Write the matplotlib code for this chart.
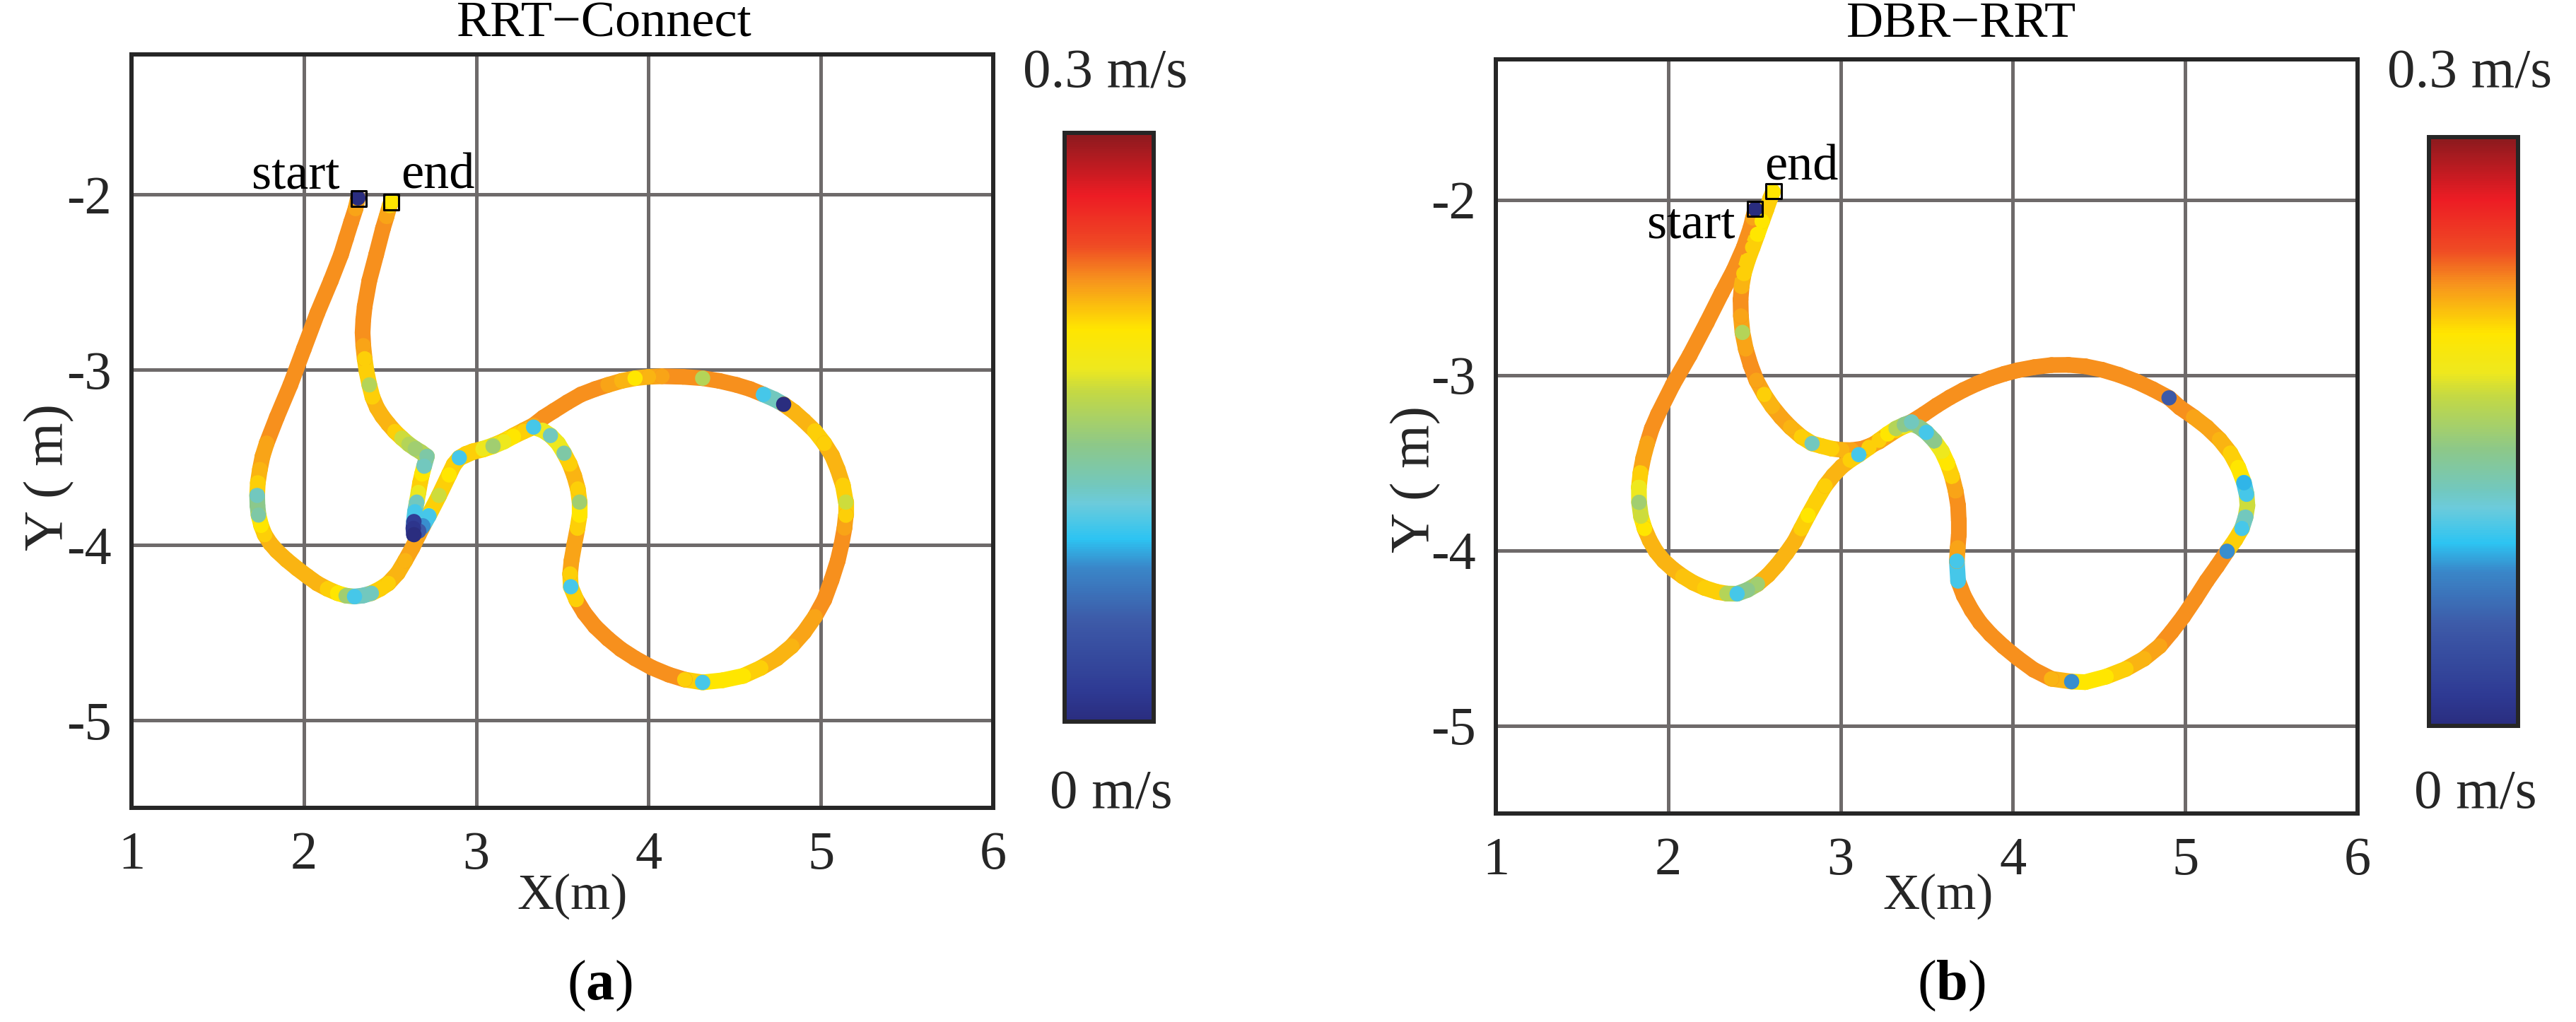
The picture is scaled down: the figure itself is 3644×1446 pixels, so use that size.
import matplotlib
matplotlib.use('Agg')
import matplotlib.pyplot as plt
from matplotlib.colors import LinearSegmentedColormap, Normalize
from matplotlib.collections import LineCollection
from matplotlib.cm import ScalarMappable
import numpy as np

plt.rcParams['font.family'] = ['Liberation Serif', 'DejaVu Serif']
plt.rcParams['mathtext.fontset'] = 'custom'
plt.rcParams['mathtext.rm'] = 'Liberation Serif'
plt.rcParams['mathtext.bf'] = 'Liberation Serif:bold'
plt.rcParams['axes.unicode_minus'] = False

# ---------------- data ----------------
x_ticks = [1, 2, 3, 4, 5, 6]
x_ticklabels = ['1', '2', '3', '4', '5', '6']
y_ticks = [-2, -3, -4, -5]
y_ticklabels = ['-2', '-3', '-4', '-5']
xlim = (1, 6)
ylim = (-5.5, -1.2)
speed_min, speed_max = 0.0, 0.3
titles = ['RRT\u2212Connect', 'DBR\u2212RRT']
panel_labels = ['a', 'b']
cbar_top_label = '0.3 m/s'
cbar_bottom_label = '0 m/s'

# RRT-Connect trajectory (x, y in m, speed in m/s)
rrt_x = [2.314, 2.300, 2.275, 2.245, 2.216, 2.157, 2.078, 2.000, 1.922, 1.843,
         1.784, 1.760, 1.745, 1.733, 1.729, 1.731, 1.737, 1.752, 1.773, 1.805,
         1.843, 1.900, 1.961, 2.020, 2.078, 2.137, 2.196, 2.245, 2.294, 2.345,
         2.392, 2.443, 2.490, 2.545, 2.588, 2.630, 2.667, 2.725, 2.784, 2.843,
         2.870, 2.902, 2.940, 2.980, 3.040, 3.098, 3.160, 3.216, 3.275, 3.333,
         3.390, 3.451, 3.530, 3.608, 3.690, 3.765, 3.845, 3.922, 4.000, 4.078,
         4.200, 4.314, 4.410, 4.510, 4.590, 4.667, 4.730, 4.784, 4.845, 4.902,
         4.965, 5.020, 5.065, 5.098, 5.128, 5.145, 5.145, 5.137, 5.120, 5.098,
         5.062, 5.020, 4.965, 4.902, 4.830, 4.745, 4.650, 4.549, 4.430, 4.314,
         4.210, 4.118, 4.020, 3.922, 3.840, 3.765, 3.690, 3.627, 3.580, 3.549,
         3.545, 3.553, 3.570, 3.588, 3.600, 3.600, 3.590, 3.569, 3.543, 3.510,
         3.475, 3.431, 3.385, 3.333, 3.275, 3.216, 3.160, 3.098, 3.040, 2.980,
         2.902, 2.870, 2.843, 2.784, 2.725, 2.690, 2.667, 2.639, 2.636, 2.639,
         2.645, 2.655, 2.665, 2.675, 2.686, 2.698, 2.714, 2.680, 2.647, 2.610,
         2.569, 2.528, 2.490, 2.455, 2.424, 2.398, 2.380, 2.364, 2.353, 2.345,
         2.341, 2.345, 2.353, 2.380, 2.420, 2.459, 2.480, 2.498, 2.509]
rrt_y = [-2.019, -2.080, -2.156, -2.250, -2.342, -2.491, -2.677, -2.881, -3.086, -3.271,
         -3.420, -3.495, -3.569, -3.645, -3.717, -3.775, -3.829, -3.888, -3.941, -3.990,
         -4.033, -4.085, -4.134, -4.178, -4.219, -4.250, -4.275, -4.289, -4.294, -4.288,
         -4.275, -4.250, -4.219, -4.160, -4.089, -4.015, -3.941, -3.829, -3.717, -3.595,
         -3.540, -3.502, -3.480, -3.465, -3.450, -3.431, -3.405, -3.375, -3.345, -3.316,
         -3.272, -3.234, -3.185, -3.141, -3.110, -3.086, -3.063, -3.048, -3.040, -3.037,
         -3.040, -3.048, -3.063, -3.086, -3.110, -3.141, -3.168, -3.197, -3.240, -3.290,
         -3.350, -3.420, -3.490, -3.569, -3.660, -3.755, -3.830, -3.903, -3.995, -4.089,
         -4.200, -4.312, -4.410, -4.498, -4.578, -4.647, -4.702, -4.747, -4.772, -4.784,
         -4.768, -4.740, -4.700, -4.647, -4.595, -4.535, -4.465, -4.387, -4.310, -4.238,
         -4.165, -4.089, -3.995, -3.903, -3.830, -3.755, -3.680, -3.606, -3.538, -3.476,
         -3.420, -3.375, -3.345, -3.327, -3.352, -3.380, -3.410, -3.436, -3.455, -3.470,
         -3.505, -3.545, -3.600, -3.720, -3.833, -3.890, -3.920, -3.941, -3.905, -3.866,
         -3.810, -3.755, -3.700, -3.643, -3.595, -3.550, -3.494, -3.470, -3.450, -3.425,
         -3.390, -3.352, -3.309, -3.265, -3.216, -3.155, -3.086, -3.010, -2.937, -2.862,
         -2.788, -2.712, -2.639, -2.491, -2.342, -2.193, -2.125, -2.063, -2.040]
rrt_v = [0.00, 0.22, 0.225, 0.225, 0.225, 0.225, 0.225, 0.225, 0.225, 0.225,
         0.22, 0.22, 0.215, 0.207, 0.12, 0.14, 0.13, 0.20, 0.207, 0.215,
         0.215, 0.215, 0.215, 0.215, 0.215, 0.207, 0.20, 0.15, 0.10, 0.12,
         0.12, 0.207, 0.207, 0.215, 0.215, 0.22, 0.22, 0.20, 0.17, 0.207,
         0.207, 0.10, 0.207, 0.207, 0.18, 0.17, 0.207, 0.207, 0.215, 0.22,
         0.225, 0.225, 0.225, 0.225, 0.225, 0.22, 0.215, 0.20, 0.215, 0.22,
         0.225, 0.16, 0.225, 0.225, 0.225, 0.10, 0.12, 0.00, 0.215, 0.215,
         0.207, 0.207, 0.215, 0.215, 0.207, 0.17, 0.207, 0.22, 0.225, 0.225,
         0.225, 0.225, 0.22, 0.22, 0.215, 0.215, 0.207, 0.20, 0.20, 0.10,
         0.207, 0.225, 0.225, 0.225, 0.225, 0.225, 0.225, 0.225, 0.207, 0.10,
         0.207, 0.22, 0.22, 0.207, 0.20, 0.15, 0.207, 0.215, 0.207, 0.13,
         0.18, 0.12, 0.18, 0.10, 0.207, 0.20, 0.18, 0.15, 0.20, 0.207,
         0.207, 0.207, 0.20, 0.207, 0.10, 0.08, 0.05, 0.00, 0.01, 0.02,
         0.10, 0.12, 0.18, 0.207, 0.20, 0.12, 0.13, 0.16, 0.15, 0.16,
         0.17, 0.207, 0.215, 0.215, 0.215, 0.207, 0.16, 0.207, 0.207, 0.22,
         0.225, 0.225, 0.225, 0.225, 0.225, 0.225, 0.22, 0.207, 0.20]

# DBR-RRT trajectory
dbr_x = [2.505, 2.492, 2.478, 2.439, 2.380, 2.310, 2.224, 2.125, 2.027, 1.941,
         1.905, 1.878, 1.855, 1.839, 1.830, 1.831, 1.842, 1.863, 1.893, 1.929,
         1.975, 2.027, 2.085, 2.145, 2.212, 2.282, 2.340, 2.400, 2.460, 2.518,
         2.580, 2.635, 2.686, 2.733, 2.772, 2.812, 2.860, 2.910, 2.958, 3.008,
         3.056, 3.106, 3.165, 3.224, 3.274, 3.322, 3.370, 3.412, 3.485, 3.557,
         3.635, 3.714, 3.792, 3.871, 3.950, 4.027, 4.124, 4.224, 4.322, 4.420,
         4.518, 4.616, 4.715, 4.812, 4.906, 4.969, 5.050, 5.125, 5.200, 5.263,
         5.308, 5.341, 5.356, 5.361, 5.350, 5.329, 5.290, 5.243, 5.185, 5.125,
         5.058, 4.988, 4.920, 4.851, 4.760, 4.655, 4.540, 4.420, 4.341, 4.224,
         4.120, 4.027, 3.945, 3.871, 3.810, 3.761, 3.715, 3.682, 3.675, 3.680,
         3.686, 3.686, 3.682, 3.668, 3.647, 3.620, 3.588, 3.545, 3.498, 3.455,
         3.412, 3.365, 3.322, 3.224, 3.175, 3.125, 3.065, 3.008, 2.950, 2.890,
         2.835, 2.773, 2.710, 2.655, 2.603, 2.557, 2.512, 2.478, 2.450, 2.431,
         2.422, 2.420, 2.426, 2.439, 2.462, 2.490, 2.518, 2.545, 2.570, 2.592,
         2.608]
dbr_y = [-2.054, -2.105, -2.160, -2.272, -2.403, -2.533, -2.701, -2.887, -3.055, -3.223,
         -3.305, -3.390, -3.475, -3.558, -3.640, -3.726, -3.805, -3.875, -3.943, -4.005,
         -4.060, -4.106, -4.148, -4.184, -4.214, -4.236, -4.246, -4.247, -4.225, -4.192,
         -4.140, -4.080, -4.015, -3.949, -3.875, -3.800, -3.715, -3.632, -3.572, -3.521,
         -3.485, -3.454, -3.413, -3.372, -3.336, -3.305, -3.283, -3.267, -3.222, -3.174,
         -3.127, -3.085, -3.049, -3.018, -2.993, -2.973, -2.955, -2.943, -2.942, -2.950,
         -2.970, -2.999, -3.036, -3.081, -3.130, -3.185, -3.240, -3.297, -3.368, -3.446,
         -3.528, -3.614, -3.680, -3.744, -3.810, -3.875, -3.940, -4.005, -4.090, -4.173,
         -4.276, -4.378, -4.465, -4.546, -4.618, -4.676, -4.720, -4.751, -4.748, -4.732,
         -4.680, -4.613, -4.547, -4.479, -4.412, -4.341, -4.258, -4.173, -4.061, -3.985,
         -3.912, -3.828, -3.744, -3.660, -3.577, -3.503, -3.435, -3.375, -3.327, -3.295,
         -3.278, -3.294, -3.316, -3.379, -3.402, -3.420, -3.428, -3.427, -3.420, -3.405,
         -3.390, -3.352, -3.298, -3.241, -3.178, -3.111, -3.030, -2.943, -2.850, -2.757,
         -2.663, -2.570, -2.495, -2.421, -2.346, -2.272, -2.197, -2.123, -2.055, -1.993,
         -1.955]
dbr_v = [0.00, 0.22, 0.225, 0.225, 0.225, 0.225, 0.225, 0.225, 0.225, 0.225,
         0.225, 0.22, 0.22, 0.207, 0.18, 0.15, 0.17, 0.20, 0.215, 0.215,
         0.215, 0.215, 0.21, 0.21, 0.207, 0.207, 0.16, 0.10, 0.14, 0.15,
         0.215, 0.215, 0.215, 0.215, 0.207, 0.20, 0.207, 0.207, 0.215, 0.215,
         0.207, 0.10, 0.207, 0.207, 0.20, 0.16, 0.14, 0.12, 0.225, 0.225,
         0.225, 0.225, 0.225, 0.225, 0.225, 0.225, 0.225, 0.225, 0.225, 0.225,
         0.225, 0.225, 0.225, 0.225, 0.05, 0.225, 0.22, 0.22, 0.215, 0.207,
         0.20, 0.09, 0.10, 0.17, 0.12, 0.10, 0.207, 0.08, 0.225, 0.225,
         0.225, 0.225, 0.225, 0.22, 0.215, 0.207, 0.20, 0.20, 0.08, 0.215,
         0.225, 0.225, 0.225, 0.225, 0.225, 0.225, 0.225, 0.10, 0.10, 0.22,
         0.225, 0.225, 0.225, 0.22, 0.207, 0.20, 0.18, 0.14, 0.10, 0.14,
         0.15, 0.18, 0.207, 0.22, 0.22, 0.225, 0.22, 0.215, 0.207, 0.207,
         0.12, 0.207, 0.215, 0.22, 0.215, 0.207, 0.22, 0.225, 0.22, 0.16,
         0.22, 0.225, 0.215, 0.207, 0.207, 0.207, 0.20, 0.20, 0.207, 0.207,
         0.20]

rrt_start, rrt_end = (2.317, -2.023), (2.509, -2.043)
dbr_start, dbr_end = (2.505, -2.054), (2.612, -1.950)

# colormap stops (position from bottom, colour)
cmap_pos = [0.00, 0.05, 0.17, 0.26, 0.31, 0.37, 0.40, 0.47, 0.56, 0.60, 0.667, 0.75, 0.81, 0.895, 1.00]
cmap_col = ['#2A2D7F', '#2E3A93', '#3D5AA8', '#3A86C8', '#2DC4F2', '#6CCBDB', '#72C8BE',
            '#8DC888', '#C4D944', '#EEE81E', '#FFE600', '#F7941D', '#EF4A24', '#ED1C24', '#8B1A1E']
cmap = LinearSegmentedColormap.from_list('speed', list(zip(cmap_pos, cmap_col)))
norm = Normalize(speed_min, speed_max)

W, H = 3644, 1446
fig = plt.figure(figsize=(W / 100, H / 100), dpi=100)

def fx(px):
    return px / W

def fy(py):
    return 1 - py / H

FS = 55
SPINE = '#262626'
GRID = '#6e6a6a'

def panel(ax_px, cb_px, xs, ys, vs, title, title_x, start, end, start_txt, end_txt,
          xlabel_x, ylabel_xy, plabel, plabel_x):
    l, t, r, b = ax_px
    ax = fig.add_axes([fx(l), fy(b), fx(r - l), (b - t) / H])
    ax.set_xlim(*xlim)
    ax.set_ylim(*ylim)
    ax.set_xticks(x_ticks)
    ax.set_xticklabels(x_ticklabels)
    ax.set_yticks(y_ticks)
    ax.set_yticklabels(y_ticklabels)
    ax.tick_params(length=0, labelsize=FS, colors=SPINE)
    ax.tick_params(axis='x', pad=24)
    ax.tick_params(axis='y', pad=20)
    ax.set_axisbelow(True)
    ax.grid(True, color=GRID, linewidth=3.6)
    for s in ax.spines.values():
        s.set_linewidth(4.3)
        s.set_color(SPINE)
    pts = np.column_stack([xs, ys])
    segs = np.stack([pts[:-1], pts[1:]], axis=1)
    vv = np.asarray(vs)
    seg_v = np.maximum(vv[:-1], vv[1:])
    lc = LineCollection(segs, cmap=cmap, norm=norm, linewidths=16,
                        capstyle='round', joinstyle='round', zorder=3)
    lc.set_array(seg_v)
    ax.add_collection(lc)
    order = np.argsort(-vv)
    ax.scatter(np.asarray(xs)[order], np.asarray(ys)[order], c=vv[order], cmap=cmap,
               norm=norm, s=240, linewidths=0, zorder=4)
    ax.scatter([start[0]], [start[1]], c=[speed_min], cmap=cmap, norm=norm, s=90,
               linewidths=0, zorder=5)
    for p in (start, end):
        ax.scatter([p[0]], [p[1]], marker='s', s=230, facecolors='none',
                   edgecolors='black', linewidths=2.2, zorder=6)
    ax.text(start_txt[0], start_txt[1], 'start', fontsize=52, ha='right', va='baseline',
            color='black', zorder=7)
    ax.text(end_txt[0], end_txt[1], 'end', fontsize=52, ha='left', va='baseline',
            color='black', zorder=7)
    fig.text(fx(title_x), fy(52), title, fontsize=52, ha='center', va='baseline', color='black')
    fig.text(fx(xlabel_x), fy(1268), 'X(m)', fontsize=52, ha='center', va='center', color=SPINE)
    fig.text(fx(ylabel_xy[0]), fy(ylabel_xy[1]), 'Y ( m)', fontsize=FS + 2, ha='center',
             va='center', rotation=90, color=SPINE)
    fig.text(fx(plabel_x), fy(1395), r'($\mathbf{%s}$)' % plabel, fontsize=58,
             ha='center', va='center', color='black')
    cl, ct, cr, cb = cb_px
    cax = fig.add_axes([fx(cl), fy(cb), fx(cr - cl), (cb - ct) / H])
    cbar = fig.colorbar(ScalarMappable(norm=norm, cmap=cmap), cax=cax, ticks=[])
    cbar.outline.set_linewidth(4.3)
    cbar.outline.set_edgecolor(SPINE)
    cmid = (cl + cr) / 2
    fig.text(fx(cmid - 5), fy(105), cbar_top_label, fontsize=FS + 2, ha='center', va='center', color=SPINE)
    fig.text(fx(cmid + 3), fy(1125), cbar_bottom_label, fontsize=FS + 2, ha='center', va='center', color=SPINE)
    return ax

panel((186, 77, 1405, 1143), (1506, 188, 1632, 1021), rrt_x, rrt_y, rrt_v, titles[0], 855,
      rrt_start, rrt_end, (2.206, -1.966), (2.563, -1.966), 810, (70, 675), panel_labels[0], 848)
panel((2116, 84, 3335, 1151), (3436, 194, 3562, 1027), dbr_x, dbr_y, dbr_v, titles[1], 2775,
      dbr_start, dbr_end, (2.390, -2.216), (2.559, -1.889), 2742, (2003, 678), panel_labels[1], 2760)

fig.savefig('out.png', dpi=100, facecolor='white')
